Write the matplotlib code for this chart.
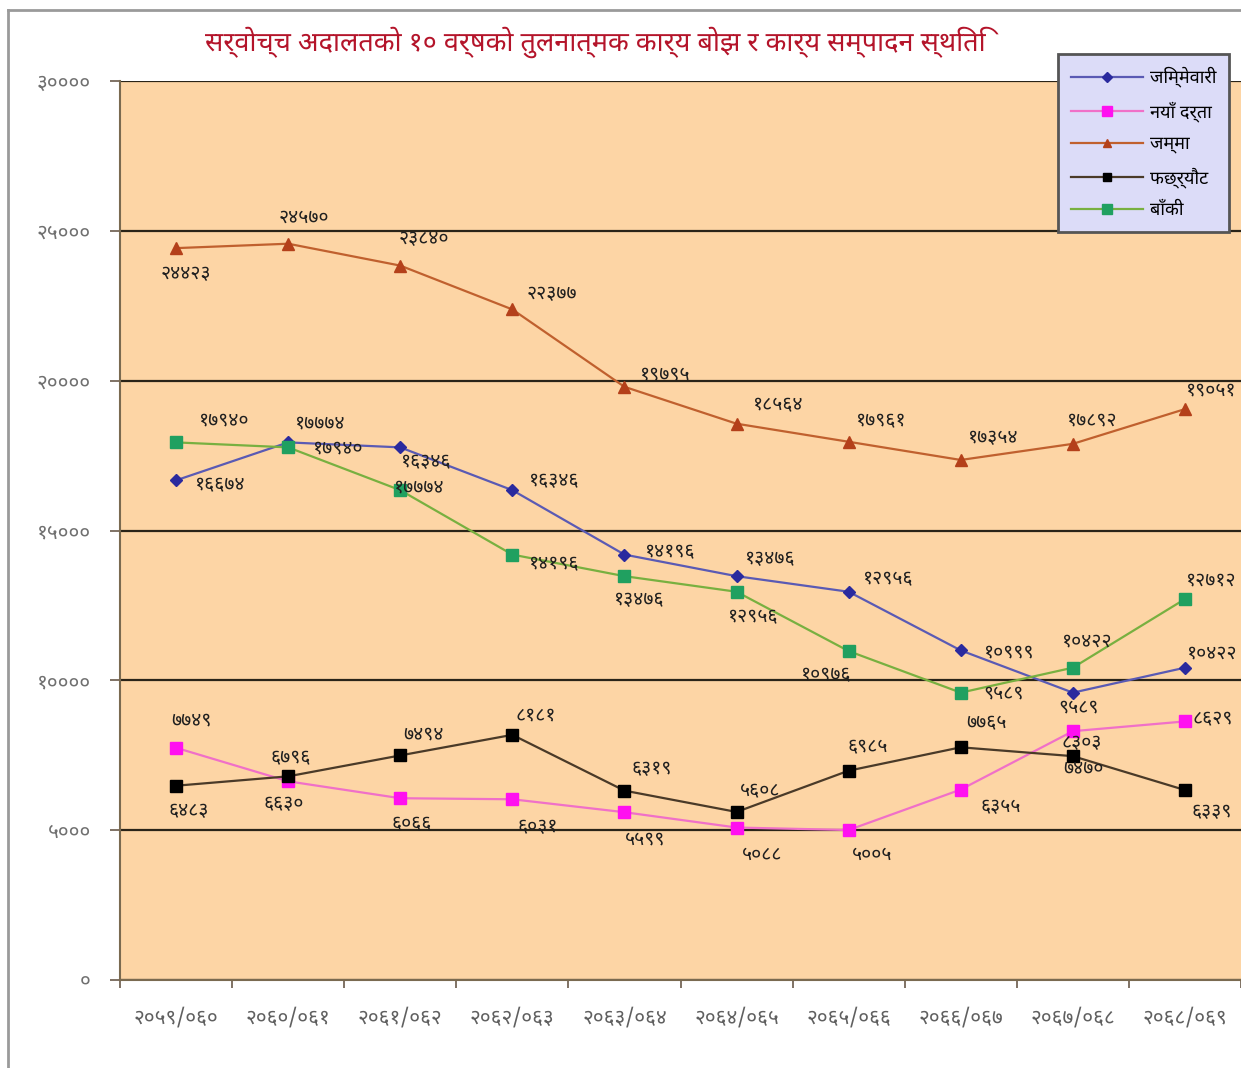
import matplotlib
matplotlib.use("Agg")
import matplotlib.pyplot as plt
from matplotlib import font_manager
from matplotlib.ft2font import FT2Font
from matplotlib.lines import Line2D

plt.rcParams["text.hinting"] = "no_hinting"
plt.rcParams["text.hinting_factor"] = 1

PREFERRED = ["Noto Sans Devanagari", "Lohit Devanagari", "Mukta", "Hind", "Gargi",
             "Kalimati", "FreeSans", "Noto Sans"]


# find a font that has Devanagari digits, prefer known ones, else the narrowest
def find_devanagari_family():
    found = {}
    for f in font_manager.fontManager.ttflist:
        try:
            ft = FT2Font(f.fname)
            cmap = ft.get_charmap()
        except Exception:
            continue
        if 0x0966 in cmap and 0x0915 in cmap:
            g = ft.load_char(0x0966)
            adv = g.linearHoriAdvance / 65536.0 / max(ft.units_per_EM, 1)
            found[f.name] = min(adv, found.get(f.name, 99))
    for name in PREFERRED:
        if name in found:
            return name
    if found:
        return min(found, key=found.get)
    return None


deva = find_devanagari_family()
plt.rcParams["font.family"] = ([deva] if deva else []) + ["DejaVu Sans"]

# Data
years = ["२०५९/०६०", "२०६०/०६१", "२०६१/०६२", "२०६२/०६३", "२०६३/०६४",
         "२०६४/०६५", "२०६५/०६६", "२०६६/०६७", "२०६७/०६८", "२०६८/०६९"]
jimmewari = [16674, 17940, 17774, 16346, 14196, 13476, 12956, 10999, 9589, 10422]
naya_darta = [7749, 6630, 6066, 6031, 5599, 5088, 5005, 6355, 8303, 8629]
jamma = [24423, 24570, 23840, 22377, 19795, 18564, 17961, 17354, 17892, 19051]
faxyaut = [6483, 6796, 7494, 8181, 6319, 5608, 6985, 7765, 7470, 6339]
baki = [17940, 17774, 16346, 14196, 13476, 12956, 10976, 9589, 10422, 12712]

series_names = ["जिम्मेवारी", "नयाँ दर्ता", "जम्मा", "फछ्र्यौट", "बाँकी"]
yticks = [0, 5000, 10000, 15000, 20000, 25000, 30000]

# label offsets in pixels (dx right, dy down)
off_jim = [(44, 5), (50, 6), (19, 40), (42, -9), (46, -2), (34, -17), (40, -13), (49, 2), (6, 15), (27, -14)]
off_naya = [(15, -27), (-4, 23), (11, 26), (25, 28), (21, 27), (26, 27), (24, 25), (40, 17), (9, 12), (28, -2)]
off_jamma = [(10, 26), (16, -26), (24, -27), (40, -15), (41, -12), (42, -19), (33, -21), (33, -22), (19, -23), (26, -19)]
off_fax = [(13, 25), (3, -18), (23, -21), (23, -19), (27, -22), (24, -21), (19, -23), (26, -24), (11, 12), (27, 22)]
off_baki = [(48, -22), (32, -24), (26, -28), (42, 10), (15, 24), (17, 25), (-22, 24), (43, 1), (14, -26), (26, -19)]

DEV = str.maketrans("0123456789", "०१२३४५६७८९")


def dev(n):
    return str(n).translate(DEV)


W, H = 1241, 1068
fig = plt.figure(figsize=(W / 100, H / 100), dpi=100)
fig.patch.set_facecolor("white")

# outer frame lines
fig.add_artist(Line2D([8 / W, 8 / W], [0, 1 - 10 / H], transform=fig.transFigure, color="#9a9a9a", lw=2))
fig.add_artist(Line2D([8 / W, 1], [1 - 10 / H, 1 - 10 / H], transform=fig.transFigure, color="#9a9a9a", lw=2))

ax = fig.add_axes([120 / W, (H - 980) / H, 1121 / W, 899 / H])
ax.set_facecolor("#FDD5A5")
x = list(range(len(years)))

styles = [
    (jimmewari, "#5A5AB4", "#2A2A9E", "D", 6, off_jim),
    (naya_darta, "#F070C8", "#FF10F0", "s", 9, off_naya),
    (jamma, "#C0602E", "#B4401A", "^", 8, off_jamma),
    (faxyaut, "#4A3A28", "#000000", "s", 8, off_fax),
    (baki, "#78B040", "#20A060", "s", 9, off_baki),
]

for (vals, lc, mc, mk, ms, offs), name in zip(styles, series_names):
    ax.plot(x, vals, color=lc, lw=1.6, marker=mk, markersize=ms,
            markerfacecolor=mc, markeredgecolor=mc, label=name, zorder=3)
    for xi, v, (dx, dy) in zip(x, vals, offs):
        ax.annotate(dev(v), (xi, v), xytext=(dx * 0.72, -dy * 0.72), textcoords="offset points",
                    ha="center", va="center", fontsize=14, color="#202020", zorder=4,
                    fontweight="bold", annotation_clip=False)

ax.set_xlim(-0.5, 9.5)
ax.set_ylim(0, 30000)
ax.set_yticks(yticks)
ax.set_yticklabels([dev(t) for t in yticks], color="#707070", fontsize=15)
ax.yaxis.grid(True, color="#2a2418", lw=1.6)
ax.set_axisbelow(True)

ax.set_xticks(x)
ax.set_xticklabels(years, color="#606060", fontsize=15)
ax.set_xticks([i + 0.5 for i in range(-1, 10)], minor=True)
ax.tick_params(axis="x", which="major", length=0, pad=20)
ax.tick_params(axis="x", which="minor", length=6, color="#6a5a4a", width=1.2)
ax.tick_params(axis="y", length=7, color="#6a5a4a", width=1.2, pad=14)

for s in ["top", "right"]:
    ax.spines[s].set_visible(False)
ax.spines["left"].set_color("#7a6a50")
ax.spines["left"].set_linewidth(1.5)
ax.spines["bottom"].set_color("#7a6a50")
ax.spines["bottom"].set_linewidth(1.5)

fig.text(595 / W, 1 - 42 / H, "सर्वोच्च अदालतको १० वर्षको तुलनात्मक कार्य बोझ र कार्य सम्पादन स्थिति",
         ha="center", va="center", fontsize=19.5, fontweight="bold", color="#B4142A")

leg = fig.legend(loc="upper left", bbox_to_anchor=(1058 / W, 1 - 54 / H), fontsize=13,
                 facecolor="#DCDCF8", edgecolor="#555555", framealpha=1, fancybox=False,
                 handlelength=4.0, borderpad=0.7, labelspacing=0.75, markerscale=0.8,
                 handletextpad=0.4, borderaxespad=0)
leg.get_frame().set_linewidth(2)

fig.savefig("out.png", dpi=100)
